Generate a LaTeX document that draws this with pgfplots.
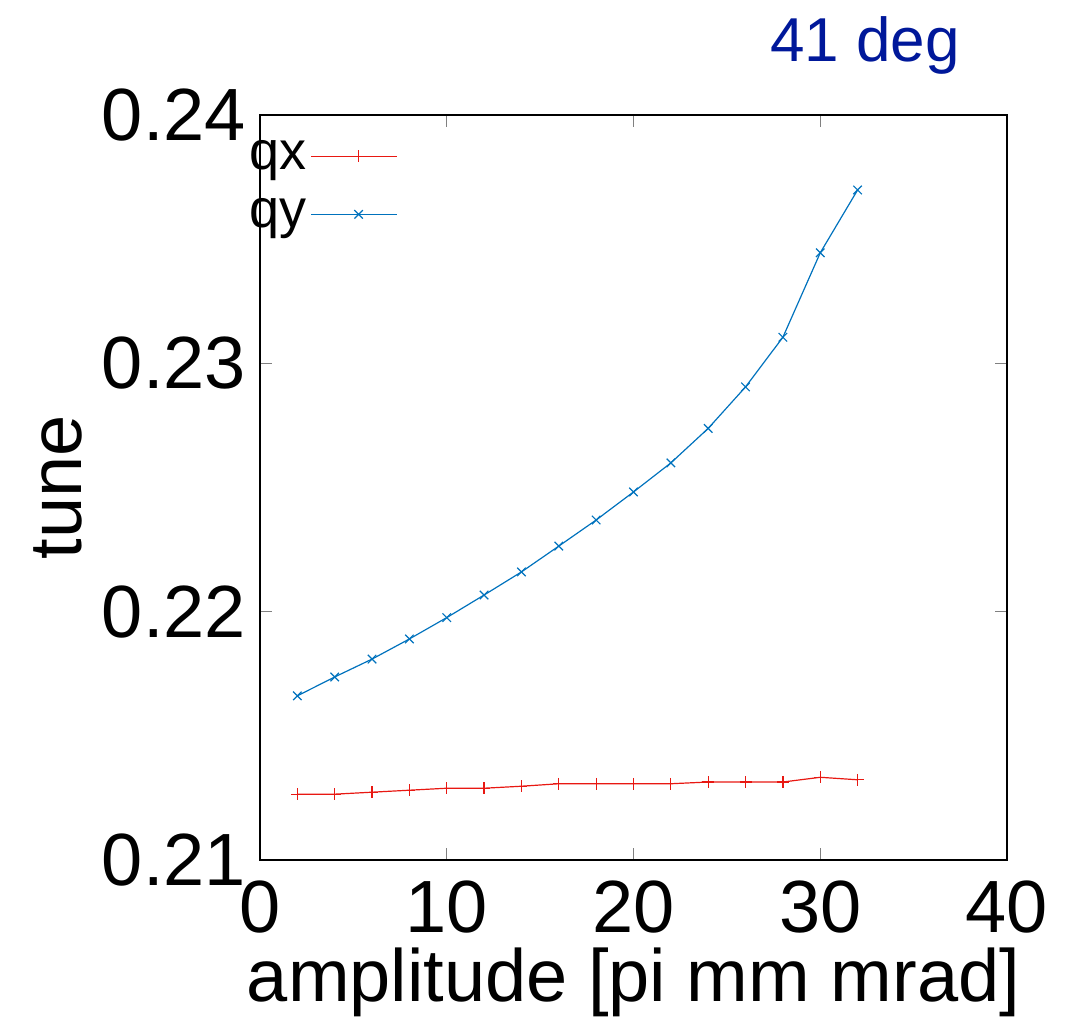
\documentclass[border=0pt]{standalone}
\usepackage{fontspec}
\setmainfont{Liberation Sans}
\usepackage{pgfplots}
\pgfplotsset{compat=1.18}
\definecolor{qxred}{RGB}{232,24,18}
\definecolor{qyblue}{RGB}{0,114,189}
\definecolor{titleblue}{RGB}{0,24,154}
\begin{document}
\begin{tikzpicture}
\useasboundingbox (-130pt,-80pt) rectangle (403pt,430pt);
\begin{axis}[
  name=ax,
  at={(0,0)}, anchor=south west,
  scale only axis, width=373.5pt, height=372.5pt,
  xmin=0, xmax=40, ymin=0.21, ymax=0.24,
  xtick={0,10,20,30,40},
  ytick={0.21,0.22,0.23,0.24},
  yticklabel style={/pgf/number format/fixed,/pgf/number format/precision=2,/pgf/number format/fixed zerofill, xshift=-3.5pt},
  xticklabel style={yshift=-7pt},
  /pgf/number format/assume math mode=true,
  scaled y ticks=false,
  tick align=inside,
  major tick length=6pt,
  minor tick num=0,
  tick style={gray, line width=0.6pt},
  axis line style={black, line width=0.9pt},
  ticklabel style={font=\fontsize{37}{40}\selectfont},
  label style={font=\fontsize{37}{40}\selectfont},
  xlabel={amplitude [pi mm mrad]},
  ylabel={tune},
  xlabel style={yshift=-2.5pt, inner sep=1pt},
  ylabel style={yshift=3pt},
  legend plot pos=right,
  legend cell align=left,
  legend style={draw=none, fill=none, at={(rel axis cs:-0.02,0.972)}, anchor=north west,
    font=\fontsize{27}{30}\selectfont, row sep=9pt, inner sep=0pt},
  legend image code/.code={\path (0pt,0pt) -- (43pt,0pt); \draw[mark repeat=2,mark phase=2,#1] plot coordinates {(5pt,0pt) (23.75pt,0pt) (42.5pt,0pt)};},
]
\addplot[color=qxred, line width=0.6pt, mark=+, mark size=3pt, mark options={line width=0.6pt}] coordinates {
(2,0.21265) (4,0.21265) (6,0.21273) (8,0.21281) (10,0.21289) (12,0.21289)
(14,0.21297) (16,0.21307) (18,0.21307) (20,0.21307) (22,0.21307) (24,0.21314)
(26,0.21314) (28,0.21314) (30,0.21333) (32,0.21323)};
\addlegendentry{qx}
\addplot[color=qyblue, line width=0.6pt, mark=x, mark size=3pt, mark options={line width=0.6pt}] coordinates {
(2,0.21661) (4,0.21737) (6,0.21809) (8,0.21890) (10,0.21976) (12,0.22067)
(14,0.22160) (16,0.22264) (18,0.22369) (20,0.22482) (22,0.22599) (24,0.22738)
(26,0.22905) (28,0.23105) (30,0.23445) (32,0.23698)};
\addlegendentry{qy}
\end{axis}
\node[text=titleblue, font=\fontsize{31}{34}\selectfont, anchor=base] at (302.5pt,399pt) {41 deg};
\end{tikzpicture}
\end{document}
